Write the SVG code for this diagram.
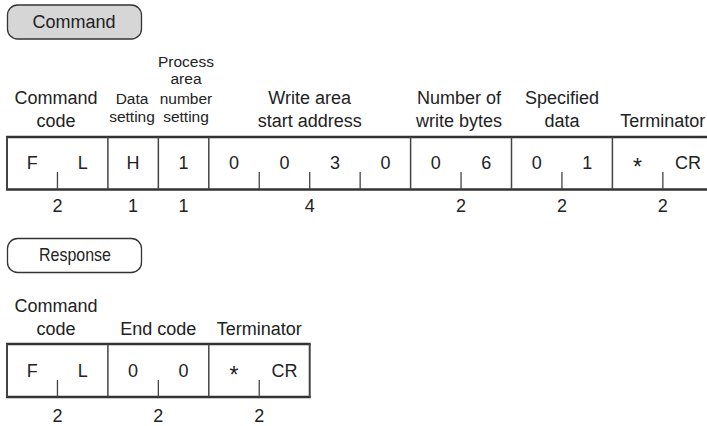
<svg xmlns="http://www.w3.org/2000/svg" width="707" height="426" viewBox="0 0 707 426">
<style>
text{font-family:"Liberation Sans",Arial,sans-serif;fill:#222;text-anchor:middle}
.h{font-size:18px}
.s{font-size:15.5px}
.c{font-size:18px}
.ast{font-size:23px}
.pill{stroke:#333;stroke-width:1.3}
.hl{stroke:#333;stroke-width:2.4;fill:none}
.vl{stroke:#444;stroke-width:1.5;fill:none}
.tk{stroke:#444;stroke-width:1.3;fill:none}
</style>
<rect width="707" height="426" fill="#fff"/>
<g id="command-label">
<rect class="pill" x="7.5" y="5" width="134" height="34" rx="10" fill="#d6d6d6"/>
<text class="h" x="74" y="28.3">Command</text>
</g>
<g id="command-headers">
<text class="h" x="56" y="104">Command</text>
<text class="h" x="56" y="127">code</text>
<text class="s" x="132" y="104">Data</text>
<text class="s" x="132" y="122">setting</text>
<text class="s" x="186" y="67">Process</text>
<text class="s" x="186" y="84">area</text>
<text class="s" x="186" y="104">number</text>
<text class="s" x="186" y="122">setting</text>
<text class="h" x="309.7" y="104">Write area</text>
<text class="h" x="309.7" y="127">start address</text>
<text class="h" x="459" y="104">Number of</text>
<text class="h" x="459" y="127">write bytes</text>
<text class="h" x="562" y="104">Specified</text>
<text class="h" x="562" y="127">data</text>
<text class="h" x="662.8" y="127">Terminator</text>
</g>
<g id="command-frame">
<line class="hl" x1="6" y1="137" x2="707" y2="137"/>
<line class="hl" x1="6" y1="189.5" x2="707" y2="189.5"/>
<line class="vl" x1="7" y1="137" x2="7" y2="189.5" style="stroke-width:2"/>
<line class="vl" x1="107.9" y1="137" x2="107.9" y2="189.5"/>
<line class="vl" x1="158.35" y1="137" x2="158.35" y2="189.5"/>
<line class="vl" x1="208.8" y1="137" x2="208.8" y2="189.5"/>
<line class="vl" x1="410.6" y1="137" x2="410.6" y2="189.5"/>
<line class="vl" x1="511.5" y1="137" x2="511.5" y2="189.5"/>
<line class="vl" x1="612.4" y1="137" x2="612.4" y2="189.5"/>
<line class="tk" x1="57.45" y1="172" x2="57.45" y2="189.5"/>
<line class="tk" x1="259.25" y1="172" x2="259.25" y2="189.5"/>
<line class="tk" x1="309.7" y1="172" x2="309.7" y2="189.5"/>
<line class="tk" x1="360.15" y1="172" x2="360.15" y2="189.5"/>
<line class="tk" x1="461.05" y1="172" x2="461.05" y2="189.5"/>
<line class="tk" x1="561.95" y1="172" x2="561.95" y2="189.5"/>
<line class="tk" x1="662.85" y1="172" x2="662.85" y2="189.5"/>
</g>
<g id="command-cells">
<text class="c" x="32.2" y="169">F</text>
<text class="c" x="82.7" y="169">L</text>
<text class="c" x="133.1" y="169">H</text>
<text class="c" x="183.6" y="169">1</text>
<text class="c" x="234" y="169">0</text>
<text class="c" x="284.5" y="169">0</text>
<text class="c" x="334.9" y="169">3</text>
<text class="c" x="385.4" y="169">0</text>
<text class="c" x="435.8" y="169">0</text>
<text class="c" x="486.3" y="169">6</text>
<text class="c" x="536.7" y="169">0</text>
<text class="c" x="587.2" y="169">1</text>
<text class="ast" x="637.6" y="175">*</text>
<text class="c" x="688.1" y="169">CR</text>
</g>
<g id="command-counts">
<text class="c" x="57.45" y="211.5">2</text>
<text class="c" x="133.1" y="211.5">1</text>
<text class="c" x="183.6" y="211.5">1</text>
<text class="c" x="309.7" y="211.5">4</text>
<text class="c" x="461.05" y="211.5">2</text>
<text class="c" x="561.95" y="211.5">2</text>
<text class="c" x="662.85" y="211.5">2</text>
</g>
<g id="response-label">
<rect class="pill" x="7.5" y="238.5" width="134" height="34" rx="10" fill="#fff"/>
<text x="75" y="261" style="font-size:19px" textLength="72" lengthAdjust="spacingAndGlyphs">Response</text>
</g>
<g id="response-headers">
<text class="h" x="56" y="312">Command</text>
<text class="h" x="56" y="335">code</text>
<text class="h" x="158.35" y="335">End code</text>
<text class="h" x="259.25" y="335">Terminator</text>
</g>
<g id="response-frame">
<line class="hl" x1="6" y1="344" x2="310.7" y2="344"/>
<line class="hl" x1="6" y1="397" x2="310.7" y2="397"/>
<line class="vl" x1="7" y1="344" x2="7" y2="397" style="stroke-width:2"/>
<line class="vl" x1="107.9" y1="344" x2="107.9" y2="397"/>
<line class="vl" x1="208.8" y1="344" x2="208.8" y2="397"/>
<line class="vl" x1="309.7" y1="344" x2="309.7" y2="397" style="stroke-width:2"/>
<line class="tk" x1="57.45" y1="380" x2="57.45" y2="397"/>
<line class="tk" x1="158.35" y1="380" x2="158.35" y2="397"/>
<line class="tk" x1="259.25" y1="380" x2="259.25" y2="397"/>
</g>
<g id="response-cells">
<text class="c" x="32.2" y="377">F</text>
<text class="c" x="82.7" y="377">L</text>
<text class="c" x="133.1" y="377">0</text>
<text class="c" x="183.6" y="377">0</text>
<text class="ast" x="234" y="383">*</text>
<text class="c" x="284.5" y="377">CR</text>
</g>
<g id="response-counts">
<text class="c" x="57.45" y="422">2</text>
<text class="c" x="158.35" y="422">2</text>
<text class="c" x="259.25" y="422">2</text>
</g>
</svg>
